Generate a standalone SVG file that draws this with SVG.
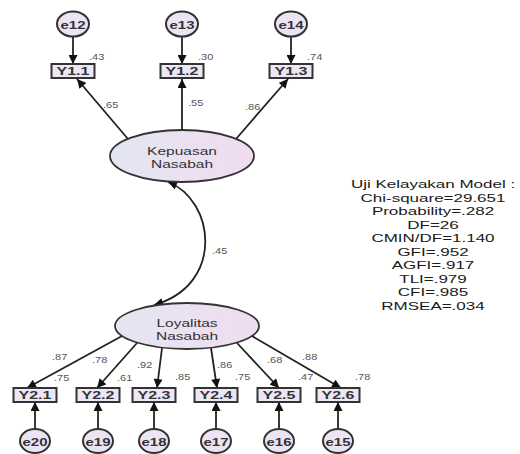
<svg xmlns="http://www.w3.org/2000/svg" width="520" height="454" viewBox="0 0 520 454">
<defs>
<linearGradient id="lat" x1="0" y1="0" x2="1" y2="0">
<stop offset="0" stop-color="#e4e6f2"/>
<stop offset="1" stop-color="#f0dcf0"/>
</linearGradient>
<marker id="ah" viewBox="0 0 10 10" refX="10" refY="5" markerWidth="10" markerHeight="9" markerUnits="userSpaceOnUse" orient="auto-start-reverse">
<path d="M0,0 L10,5 L0,10 z" fill="#111"/>
</marker>
<style>
.lat{fill:url(#lat);stroke:#333;stroke-width:1.8}
.obs{fill:#ece6f6;stroke:#333;stroke-width:2}
.err{fill:#ece4f4;stroke:#333;stroke-width:2}
.ln{fill:none;stroke:#222;stroke-width:1.8;marker-end:url(#ah)}
.t{font-family:"Liberation Sans",Arial,sans-serif;text-anchor:middle;fill:#333}
.b{font-weight:bold}
.c{font-family:"Liberation Sans",Arial,sans-serif;font-size:11px;fill:#555}
.fit{font-family:"Liberation Sans",Arial,sans-serif;font-size:17px;text-anchor:middle;fill:#1a1a1a}
</style>
</defs>
<rect width="520" height="454" fill="#fff"/>
<g id="connectors">
<line class="ln" x1="73" y1="37" x2="73" y2="64"/>
<line class="ln" x1="182" y1="37" x2="182" y2="64"/>
<line class="ln" x1="291" y1="37" x2="291" y2="64"/>
<line class="ln" x1="128" y1="139" x2="77" y2="79"/>
<line class="ln" x1="182" y1="130" x2="182" y2="79"/>
<line class="ln" x1="236" y1="139" x2="288" y2="79"/>
<path class="ln" style="marker-start:url(#ah)" d="M168,182 C215,200 225,285 154,305"/>
<line class="ln" x1="122" y1="336" x2="27" y2="388"/>
<line class="ln" x1="137" y1="343" x2="97" y2="388"/>
<line class="ln" x1="162" y1="348" x2="157" y2="388"/>
<line class="ln" x1="211" y1="348" x2="217" y2="388"/>
<line class="ln" x1="237" y1="343" x2="279" y2="388"/>
<line class="ln" x1="252" y1="336" x2="341" y2="388"/>
<line class="ln" x1="35" y1="429" x2="35" y2="402"/>
<line class="ln" x1="98" y1="429" x2="98" y2="402"/>
<line class="ln" x1="154" y1="429" x2="154" y2="402"/>
<line class="ln" x1="216" y1="429" x2="216" y2="402"/>
<line class="ln" x1="279" y1="429" x2="279" y2="402"/>
<line class="ln" x1="338" y1="429" x2="338" y2="402"/>
<text class="c" transform="matrix(1 0 0 .8 103 108)">.65</text>
<text class="c" transform="matrix(1 0 0 .8 188 106)">.55</text>
<text class="c" transform="matrix(1 0 0 .8 245 110)">.86</text>
<text class="c" transform="matrix(1 0 0 .8 212 254)">.45</text>
<text class="c" transform="matrix(1 0 0 .8 52 360)">.87</text>
<text class="c" transform="matrix(1 0 0 .8 92 363)">.78</text>
<text class="c" transform="matrix(1 0 0 .8 137 368)">.92</text>
<text class="c" transform="matrix(1 0 0 .8 217 368)">.86</text>
<text class="c" transform="matrix(1 0 0 .8 267 363)">.68</text>
<text class="c" transform="matrix(1 0 0 .8 302 360)">.88</text>
</g>
<g id="e12"><ellipse class="err" cx="73" cy="24" rx="16" ry="12.5"/><text class="t b" font-size="15" transform="matrix(1 0 0 .72 73 29)">e12</text></g>
<g id="e13"><ellipse class="err" cx="182" cy="24" rx="16" ry="12.5"/><text class="t b" font-size="15" transform="matrix(1 0 0 .72 182 29)">e13</text></g>
<g id="e14"><ellipse class="err" cx="291" cy="24" rx="16" ry="12.5"/><text class="t b" font-size="15" transform="matrix(1 0 0 .72 291 29)">e14</text></g>
<g id="Y1.1"><rect class="obs" x="51.5" y="64" width="43" height="14"/><text class="t b" font-size="16" transform="matrix(1 0 0 .72 73 75)">Y1.1</text><text class="c" transform="matrix(1 0 0 .8 89 60)">.43</text></g>
<g id="Y1.2"><rect class="obs" x="160.5" y="64" width="43" height="14"/><text class="t b" font-size="16" transform="matrix(1 0 0 .72 182 75)">Y1.2</text><text class="c" transform="matrix(1 0 0 .8 198 60)">.30</text></g>
<g id="Y1.3"><rect class="obs" x="269.5" y="64" width="43" height="14"/><text class="t b" font-size="16" transform="matrix(1 0 0 .72 291 75)">Y1.3</text><text class="c" transform="matrix(1 0 0 .8 307 60)">.74</text></g>
<g id="kepuasan"><ellipse class="lat" cx="182" cy="156" rx="72" ry="26"/><text class="t" font-size="15.5" transform="matrix(1 0 0 .72 182 155)">Kepuasan</text><text class="t" font-size="15.5" transform="matrix(1 0 0 .72 182 168)">Nasabah</text></g>
<g id="loyalitas"><ellipse class="lat" cx="187" cy="326" rx="72" ry="23"/><text class="t" font-size="15.5" transform="matrix(1 0 0 .72 187 327)">Loyalitas</text><text class="t" font-size="15.5" transform="matrix(1 0 0 .72 187 340)">Nasabah</text></g>
<g id="Y2.1"><rect class="obs" x="13.5" y="388" width="43" height="14"/><text class="t b" font-size="16" transform="matrix(1 0 0 .72 35 399)">Y2.1</text><text class="c" transform="matrix(1 0 0 .8 54 381)">.75</text></g>
<g id="Y2.2"><rect class="obs" x="76.5" y="388" width="43" height="14"/><text class="t b" font-size="16" transform="matrix(1 0 0 .72 98 399)">Y2.2</text><text class="c" transform="matrix(1 0 0 .8 117 381)">.61</text></g>
<g id="Y2.3"><rect class="obs" x="132.5" y="388" width="43" height="14"/><text class="t b" font-size="16" transform="matrix(1 0 0 .72 154 399)">Y2.3</text><text class="c" transform="matrix(1 0 0 .8 175 380)">.85</text></g>
<g id="Y2.4"><rect class="obs" x="194.5" y="388" width="43" height="14"/><text class="t b" font-size="16" transform="matrix(1 0 0 .72 216 399)">Y2.4</text><text class="c" transform="matrix(1 0 0 .8 235 380)">.75</text></g>
<g id="Y2.5"><rect class="obs" x="257.5" y="388" width="43" height="14"/><text class="t b" font-size="16" transform="matrix(1 0 0 .72 279 399)">Y2.5</text><text class="c" transform="matrix(1 0 0 .8 298 380)">.47</text></g>
<g id="Y2.6"><rect class="obs" x="316.5" y="388" width="43" height="14"/><text class="t b" font-size="16" transform="matrix(1 0 0 .72 338 399)">Y2.6</text><text class="c" transform="matrix(1 0 0 .8 355 380)">.78</text></g>
<g id="e20"><ellipse class="err" cx="35" cy="441" rx="15" ry="12"/><text class="t b" font-size="15" transform="matrix(1 0 0 .72 35 446)">e20</text></g>
<g id="e19"><ellipse class="err" cx="98" cy="441" rx="15" ry="12"/><text class="t b" font-size="15" transform="matrix(1 0 0 .72 98 446)">e19</text></g>
<g id="e18"><ellipse class="err" cx="154" cy="441" rx="15" ry="12"/><text class="t b" font-size="15" transform="matrix(1 0 0 .72 154 446)">e18</text></g>
<g id="e17"><ellipse class="err" cx="216" cy="441" rx="15" ry="12"/><text class="t b" font-size="15" transform="matrix(1 0 0 .72 216 446)">e17</text></g>
<g id="e16"><ellipse class="err" cx="279" cy="441" rx="15" ry="12"/><text class="t b" font-size="15" transform="matrix(1 0 0 .72 279 446)">e16</text></g>
<g id="e15"><ellipse class="err" cx="338" cy="441" rx="15" ry="12"/><text class="t b" font-size="15" transform="matrix(1 0 0 .72 338 446)">e15</text></g>
<g id="fit">
<text class="fit" transform="matrix(1 0 0 .68 433 188)">Uji Kelayakan Model :</text>
<text class="fit" transform="matrix(1 0 0 .68 433 201.5)">Chi-square=29.651</text>
<text class="fit" transform="matrix(1 0 0 .68 433 215)">Probability=.282</text>
<text class="fit" transform="matrix(1 0 0 .68 433 228.5)">DF=26</text>
<text class="fit" transform="matrix(1 0 0 .68 433 242)">CMIN/DF=1.140</text>
<text class="fit" transform="matrix(1 0 0 .68 433 255.5)">GFI=.952</text>
<text class="fit" transform="matrix(1 0 0 .68 433 269)">AGFI=.917</text>
<text class="fit" transform="matrix(1 0 0 .68 433 282.5)">TLI=.979</text>
<text class="fit" transform="matrix(1 0 0 .68 433 296)">CFI=.985</text>
<text class="fit" transform="matrix(1 0 0 .68 433 309.5)">RMSEA=.034</text>
</g>
</svg>
